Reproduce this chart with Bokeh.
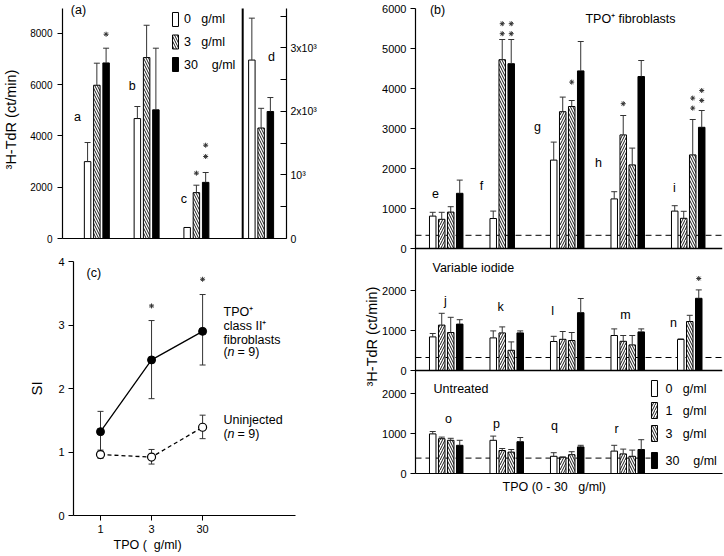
import math
from bokeh.plotting import figure
from bokeh.models import (ColumnDataSource, Range1d, LinearAxis, FixedTicker, Span, Title)
from bokeh.layouts import row, column
from bokeh.core.properties import value
from bokeh.embed import file_html
from bokeh.resources import INLINE

NaN = float("nan")
FONT = "Liberation Sans"
ERR = "#333333"

# ---------------- data: panel (a) ----------------
a_groups = ["a", "b", "c", "d"]
a_mean_0 = [3000, 4680, 430, 2810]
a_mean_3 = [5980, 7060, 1790, 1740]
a_mean_30 = [6850, 5020, 2190, 2000]
a_err_0 = [3745, 5150, NaN, 3470]
a_err_3 = [6840, 8320, 2080, 2050]
a_err_30 = [7425, 7425, 2575, 2220]
a_star_group = [0, 2, 2, 2]
a_star_conc = ["30", "3", "30", "30"]
a_star_y = [7970, 2550, 3200, 3640]
a_left_ticks = [0, 2000, 4000, 6000, 8000]
a_right_ticks = [0, 1000, 2000, 3000]
a_right_minor = [500, 1500, 2500, 3500]
a_right_labels = ["0", "10\u00b3", "2x10\u00b3", "3x10\u00b3"]
a_legend_concs = ["0", "3", "30"]
a_legend_labels = ["0\u00a0\u00a0\u00a0g/ml", "3\u00a0\u00a0\u00a0g/ml", "30\u00a0\u00a0\u00a0\u00a0g/ml"]

# ---------------- data: panel (b) ----------------
b_concs = ["0", "1", "3", "30"]
b1_groups = ["e", "f", "g", "h", "i"]
b1_mean_0 = [810, 750, 2210, 1240, 935]
b1_mean_1 = [730, NaN, 3420, 2840, 755]
b1_mean_3 = [910, 4720, 3550, 2090, 2340]
b1_mean_30 = [1380, 4620, 4440, 4300, 3030]
b1_err_0 = [905, 935, 2660, 1420, 1070]
b1_err_1 = [905, NaN, 3785, 3325, 930]
b1_err_3 = [1045, 5225, 3700, 2510, 3225]
b1_err_30 = [1710, 5225, 5175, 4700, 3450]

b2_groups = ["j", "k", "l", "m", "n"]
b2_mean_0 = [840, 815, 725, 875, 775]
b2_mean_1 = [1135, 940, 780, 730, NaN]
b2_mean_3 = [950, 505, 750, 640, 1225]
b2_mean_30 = [1160, 940, 1445, 965, 1805]
b2_err_0 = [925, 990, 855, 1040, 790]
b2_err_1 = [1430, 1090, 975, 875, NaN]
b2_err_3 = [1330, 715, 950, 875, 1380]
b2_err_30 = [1270, 990, 1800, 1040, 2015]

b3_groups = ["o", "p", "q", "r"]
b3_mean_0 = [990, 830, 430, 560]
b3_mean_1 = [870, 575, 405, 490]
b3_mean_3 = [830, 535, 470, 430]
b3_mean_30 = [705, 795, 665, 600]
b3_err_0 = [1050, 935, 520, 705]
b3_err_1 = [910, 625, 415, 610]
b3_err_3 = [880, 600, 545, 585]
b3_err_30 = [830, 900, 705, 845]

b_background = [330, 325, 385]          # dashed reference level of each sub-panel
b_panel_names = ["TPO\u207a fibroblasts", "Variable iodide", "Untreated"]
b_star_group = ["f", "f", "f", "f", "g", "h", "i", "i", "i", "i", "n"]
b_star_conc = ["3", "3", "30", "30", "3", "1", "3", "3", "30", "30", "30"]
b_star_y = [5370, 5620, 5370, 5620, 4160, 3620, 3510, 3760, 3700, 3950, 2300]
b_sub_ticks = [[0, 1000, 2000, 3000, 4000, 5000, 6000], [0, 1000, 2000], [0, 1000, 2000]]
b_legend_labels = ["0\u00a0\u00a0\u00a0g/ml", "1\u00a0\u00a0\u00a0g/ml", "3\u00a0\u00a0\u00a0g/ml",
                   "30\u00a0\u00a0\u00a0\u00a0g/ml"]

# ---------------- data: panel (c) ----------------
c_doses = ["1", "3", "30"]
c_tpo_mean = [1.32, 2.45, 2.90]
c_tpo_lo = [1.01, 1.84, 2.37]
c_tpo_hi = [1.64, 3.07, 3.48]
c_uninj_mean = [0.96, 0.92, 1.39]
c_uninj_lo = [0.90, 0.81, 1.21]
c_uninj_hi = [1.03, 1.04, 1.58]
c_star_idx = [1, 2]
c_star_y = [3.30, 3.72]

# ---------------- styling helpers ----------------
HATCH = dict(hatch_color="black", hatch_scale=5, hatch_weight=0.9)
BAR_STYLE = {
    "0": dict(fill_color="white"),
    "1": dict(fill_color="white", hatch_pattern="/", **HATCH),
    "3": dict(fill_color="white", hatch_pattern="\\", **HATCH),
    "30": dict(fill_color="black"),
}


def clean(fig):
    fig.xgrid.visible = False
    fig.ygrid.visible = False
    fig.outline_line_color = None
    fig.background_fill_color = "white"
    fig.border_fill_color = "white"
    fig.frame_align = False


def style_axis(ax, size="11px"):
    ax.axis_line_color = "black"
    ax.axis_line_width = 1.2
    ax.major_tick_line_color = "black"
    ax.major_tick_in = 0
    ax.major_tick_out = 5
    ax.minor_tick_line_color = None
    ax.major_label_text_font = FONT
    ax.major_label_text_font_size = size
    ax.major_label_text_color = "black"
    ax.axis_label_text_font = FONT
    ax.axis_label_text_font_style = "normal"
    ax.axis_label_text_color = "black"


def side_title(text, align, offset, standoff, size="12px"):
    return Title(text=text, align=align, offset=offset, standoff=standoff, text_font=FONT,
                 text_font_size=size, text_font_style="normal", text_color="black")


def draw_bars(fig, xs, means, errs, conc, width, cap, base=0.0, range_name="default"):
    keep = [i for i, m in enumerate(means) if not math.isnan(m)]
    x = [xs[i] for i in keep]
    top = [base + means[i] for i in keep]
    r = fig.vbar(x=x, top=top, bottom=base, width=width, line_color="black", line_width=1,
                 y_range_name=range_name, **BAR_STYLE[conc])
    ek = [i for i in keep if not math.isnan(errs[i])]
    if ek:
        ex = [xs[i] for i in ek]
        fig.segment(x0=ex, y0=[base + means[i] for i in ek], x1=ex, y1=[base + errs[i] for i in ek],
                    line_color=ERR, line_width=1, y_range_name=range_name)
        fig.scatter(x=ex, y=[base + errs[i] for i in ek], marker="dash", size=cap,
                    line_color=ERR, line_width=1, y_range_name=range_name)
    return r


def add_text(fig, xs, ys, texts, size="12px", align="center", style="normal", x_offset=0):
    src = ColumnDataSource(dict(x=xs, y=ys, t=texts))
    fig.text(x="x", y="y", text="t", source=src, text_font=value(FONT), text_font_size=size,
             text_align=align, text_baseline="middle", text_color="black", text_font_style=style,
             x_offset=x_offset)


def swatch_legend(fig, x, ys, concs, labels, text_x, w, h):
    for yy, c in zip(ys, concs):
        fig.rect(x=[x], y=[yy], width=w, height=h, width_units="screen", height_units="screen",
                 line_color="black", line_width=1, **BAR_STYLE[c])
    add_text(fig, [text_x] * len(ys), ys, labels, size="12.5px", align="left")


# ================= panel (a) =================
A_TOP, D_TOP = 8974, 3622
fa = figure(width=360, height=250, output_backend="svg", toolbar_location=None,
            x_range=Range1d(0.31, 4.81), y_range=Range1d(0, A_TOP * 238 / 230),
            min_border_left=61, min_border_right=74, min_border_top=0, min_border_bottom=12)
clean(fa)
fa.extra_y_ranges = {"d": Range1d(0, D_TOP * 238 / 230)}
style_axis(fa.yaxis[0], "10px")
fa.yaxis[0].ticker = FixedTicker(ticks=a_left_ticks)
fa.yaxis[0].bounds = (0, A_TOP)
fa.yaxis[0].axis_label = "\u00b3H-TdR (ct/min)"
fa.yaxis[0].axis_label_text_font_size = "14.5px"
fa.yaxis[0].axis_label_standoff = 8
fa.yaxis[0].major_label_standoff = 5
style_axis(fa.xaxis[0])
fa.xaxis[0].ticker = FixedTicker(ticks=[])
fa.xaxis[0].major_tick_line_color = None

ra = LinearAxis(y_range_name="d", ticker=FixedTicker(ticks=a_right_ticks, minor_ticks=a_right_minor),
                major_label_overrides={t: l for t, l in zip(a_right_ticks, a_right_labels)},
                bounds=(0, D_TOP))
style_axis(ra, "10.5px")
ra.major_tick_in = 6
ra.major_tick_out = 0
ra.minor_tick_line_color = "black"
ra.minor_tick_in = 6
ra.minor_tick_out = 0
ra.major_label_standoff = 4
fa.add_layout(ra, "right")

a_group_x = [1.0, 2.0, 3.0, 4.3]
a_sep_x = 3.93
a_step = 9.3 / 50
a_width = 6.5 / 50
a_slot = {"0": -1, "3": 0, "30": 1}
a_means = {"0": a_mean_0, "3": a_mean_3, "30": a_mean_30}
a_errs = {"0": a_err_0, "3": a_err_3, "30": a_err_30}
for conc in ["0", "3", "30"]:
    xs = [a_group_x[g] + a_slot[conc] * a_step for g in range(3)]
    draw_bars(fa, xs, a_means[conc][:3], a_errs[conc][:3], conc, a_width, 6)
    draw_bars(fa, [a_group_x[3] + a_slot[conc] * a_step], a_means[conc][3:], a_errs[conc][3:],
              conc, a_width, 6, range_name="d")

fa.segment(x0=[a_sep_x], y0=[0], x1=[a_sep_x], y1=[A_TOP], line_color="black", line_width=2)
fa.scatter(x=[a_group_x[g] + a_slot[c] * a_step for g, c in zip(a_star_group, a_star_conc)],
           y=a_star_y, marker="asterisk", size=5, line_color="#333333", line_width=1)
add_text(fa, [0.61, 1.71, 2.75, 4.51], [4750, 5960, 1550, 7090], a_groups, size="12.5px")
add_text(fa, [0.63], [8900], ["(a)"], size="12.5px")
swatch_legend(fa, 2.58, [8545, 7667, 6789], a_legend_concs, a_legend_labels, 2.75, 6, 14)

# ================= panel (c) =================
fc = figure(width=360, height=306, output_backend="svg", toolbar_location=None,
            x_range=Range1d(-0.529, 3.82), y_range=Range1d(0, 4),
            min_border_left=73, min_border_right=65, min_border_top=11, min_border_bottom=41)
clean(fc)
style_axis(fc.xaxis[0])
style_axis(fc.yaxis[0])
fc.xaxis[0].ticker = FixedTicker(ticks=[0, 1, 2])
fc.xaxis[0].major_label_overrides = {i: d for i, d in enumerate(c_doses)}
fc.xaxis[0].major_label_standoff = 4
fc.yaxis[0].ticker = FixedTicker(ticks=[0, 1, 2, 3, 4])
fc.yaxis[0].axis_label = "SI"
fc.yaxis[0].axis_label_text_font_size = "15px"
fc.yaxis[0].axis_label_standoff = 10
fc.yaxis[0].major_label_standoff = 4
fc.add_layout(side_title("TPO (\u00a0\u00a0g/ml)", "left", 40, 0, "12.5px"), "below")

cx = list(range(len(c_doses)))
fc.segment(x0=cx, y0=c_uninj_lo, x1=cx, y1=c_uninj_hi, line_color=ERR, line_width=1)
fc.scatter(x=cx + cx, y=c_uninj_lo + c_uninj_hi, marker="dash", size=6, line_color=ERR)
fc.segment(x0=cx, y0=c_tpo_lo, x1=cx, y1=c_tpo_hi, line_color=ERR, line_width=1)
fc.scatter(x=cx + cx, y=c_tpo_lo + c_tpo_hi, marker="dash", size=6, line_color=ERR)
fc.line(x=cx, y=c_uninj_mean, line_color="black", line_width=1.3, line_dash="4 3")
fc.line(x=cx, y=c_tpo_mean, line_color="black", line_width=1.3)
fc.scatter(x=cx, y=c_uninj_mean, marker="circle", size=8, fill_color="white", line_color="black", line_width=1.2)
fc.scatter(x=cx, y=c_tpo_mean, marker="circle", size=8, fill_color="black", line_color="black")
fc.scatter(x=c_star_idx, y=c_star_y, marker="asterisk", size=5, line_color="#333333", line_width=1)
add_text(fc, [-0.13], [3.82], ["(c)"], size="12.5px")
add_text(fc, [2.41, 2.41, 2.41], [3.20, 2.98, 2.77],
         ["TPO\u207a", "class II\u207a", "fibroblasts"], size="12.5px", align="left")
add_text(fc, [2.41], [1.51], ["Uninjected"], size="12.5px", align="left")
add_text(fc, [2.41, 2.41], [2.57, 1.29], ["(", "("], size="12.5px", align="left")
add_text(fc, [2.41, 2.41], [2.57, 1.29], ["n", "n"], size="12.5px", align="left", style="italic", x_offset=4)
add_text(fc, [2.41, 2.41], [2.57, 1.29], ["= 9)", "= 9)"], size="12.5px", align="left", x_offset=14)

# ================= panel (b) =================
PX = 0.04                     # px per count (all three sub-panels share it)
b_base = [225 / PX, 103 / PX, 0.0]
B_TOP = b_base[0] + 6000
B_UNIT = 60.5
fb = figure(width=364, height=556, output_backend="svg", toolbar_location=None,
            x_range=Range1d(-0.508, -0.508 + 307 / B_UNIT), y_range=Range1d(0, 473 / PX),
            min_border_left=55, min_border_right=2, min_border_top=0, min_border_bottom=83)
clean(fb)
style_axis(fb.xaxis[0])
fb.xaxis[0].ticker = FixedTicker(ticks=[])
fb.xaxis[0].major_tick_line_color = None
style_axis(fb.yaxis[0])
fb.yaxis[0].bounds = (0, B_TOP)
ticks, over = [], {}
for base, tl in zip(b_base, b_sub_ticks):
    for t in tl:
        ticks.append(base + t)
        over[base + t] = str(t)
fb.yaxis[0].ticker = FixedTicker(ticks=ticks)
fb.yaxis[0].major_label_overrides = over
fb.yaxis[0].major_label_standoff = 4
fb.add_layout(side_title("\u00b3H-TdR (ct/min)", "left", 87, 0, "14.5px"), "left")
fb.add_layout(side_title("TPO (0 - 30\u00a0\u00a0\u00a0g/ml)", "left", 87, 8, "12.5px"), "below")

b_step = 9 / B_UNIT
b_width = 6.5 / B_UNIT
b_shift = {"n": 0.67}
b_dash_end = [None, None, -0.508 + 235 / B_UNIT]
subpanels = [
    (b1_groups, [b1_mean_0, b1_mean_1, b1_mean_3, b1_mean_30], [b1_err_0, b1_err_1, b1_err_3, b1_err_30]),
    (b2_groups, [b2_mean_0, b2_mean_1, b2_mean_3, b2_mean_30], [b2_err_0, b2_err_1, b2_err_3, b2_err_30]),
    (b3_groups, [b3_mean_0, b3_mean_1, b3_mean_3, b3_mean_30], [b3_err_0, b3_err_1, b3_err_3, b3_err_30]),
]
pos = {}
x_lo, x_hi = fb.x_range.start, fb.x_range.end
for k, (groups, means, errs) in enumerate(subpanels):
    base = b_base[k]
    end = b_dash_end[k] if b_dash_end[k] is not None else x_hi
    fb.segment(x0=[x_lo], y0=[base + b_background[k]], x1=[end], y1=[base + b_background[k]],
               line_color="black", line_width=1, line_dash="6 4", level="underlay")
    if k < 2:
        fb.add_layout(Span(location=base, dimension="width", line_color="black", line_width=1.5))
    for gi, g in enumerate(groups):
        present = [c for ci, c in enumerate(b_concs) if not math.isnan(means[ci][gi])]
        for si, c in enumerate(present):
            pos[(g, c)] = gi + (si + b_shift.get(g, 0) - 1.5) * b_step
    for ci, c in enumerate(b_concs):
        xs = [pos.get((g, c), 0.0) for g in groups]
        draw_bars(fb, xs, means[ci], errs[ci], c, b_width, 6, base=base)

group_base = {}
for k, (groups, _, _) in enumerate(subpanels):
    for g in groups:
        group_base[g] = b_base[k]
fb.scatter(x=[pos[(g, c)] for g, c in zip(b_star_group, b_star_conc)],
           y=[group_base[g] + y for g, y in zip(b_star_group, b_star_y)],
           marker="asterisk", size=5, line_color="#333333", line_width=1)

add_text(fb, [-0.177, 0.583, 1.508, 2.517, 3.773], [b_base[0] + v for v in [1375, 1575, 3050, 2150, 1525]], b1_groups, size="12.5px")
add_text(fb, [-0.012, 0.897, 1.757, 2.963, 3.756], [b_base[1] + v for v in [1750, 1600, 1500, 1400, 1200]], b2_groups, size="12.5px")
add_text(fb, [0.037, 0.831, 1.79, 2.814], [b_base[2] + v for v in [1375, 1250, 1200, 1125]], b3_groups, size="12.5px")
add_text(fb, [-0.144], [b_base[0] + 5975], ["(b)"], size="12.5px")
add_text(fb, [3.046], [b_base[0] + 5750], [b_panel_names[0]], size="12.5px")
add_text(fb, [-0.227], [b_base[1] + 2575], [b_panel_names[1]], size="12.5px", align="left")
add_text(fb, [-0.21], [b_base[2] + 2125], [b_panel_names[2]], size="12.5px", align="left")
swatch_legend(fb, 3.442, [2125, 1575, 1000, 325], b_concs, b_legend_labels, 3.624, 6, 16)

layout = row(column(fa, fc), fb)
open("out.html", "w").write(file_html(layout, INLINE))
